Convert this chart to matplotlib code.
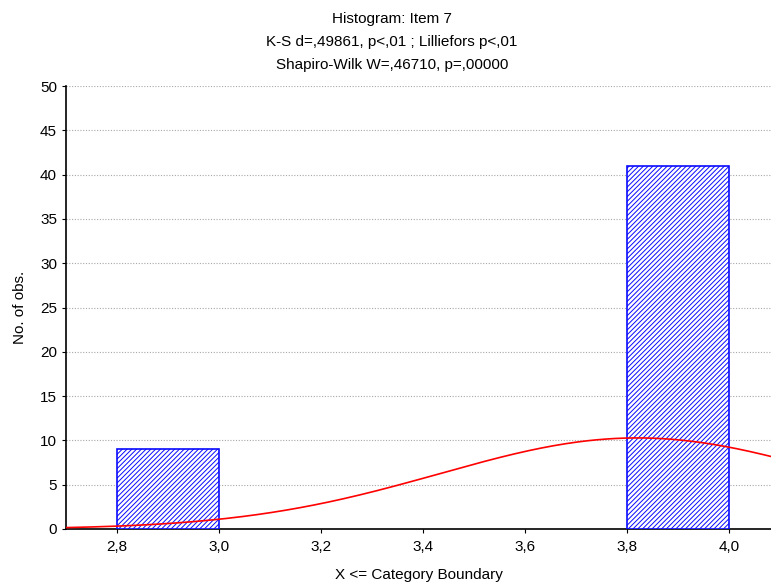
import matplotlib
matplotlib.use('Agg')
import matplotlib.pyplot as plt
import numpy as np

# histogram data (category boundaries, X <= boundary)
bin_left = [2.8, 3.8]
bin_right = [3.0, 4.0]
counts = [9, 41]
values = [3.0, 4.0]  # observed values in each bin

title_lines = ['Histogram: Item 7',
               'K-S d=,49861, p<,01 ; Lilliefors p<,01',
               'Shapiro-Wilk W=,46710, p=,00000']

plt.rcParams['font.family'] = ['Liberation Sans', 'DejaVu Sans']
plt.rcParams['hatch.color'] = '#4848ff'
plt.rcParams['hatch.linewidth'] = 0.7

fig = plt.figure(figsize=(7.71, 5.84), dpi=100)
ax = fig.add_axes([66/771, 1 - 529/584, 1 - 66/771, (529 - 86)/584])

widths = [r - l for l, r in zip(bin_left, bin_right)]
ax.bar(bin_left, counts, width=widths, align='edge', color='white',
       edgecolor='#0a0aff', linewidth=1.2, hatch='///////', zorder=3)

# expected normal curve from the data
n = sum(counts)
mean = sum(v * c for v, c in zip(values, counts)) / n
sd = np.sqrt(sum(c * (v - mean) ** 2 for v, c in zip(values, counts)) / (n - 1))
bw = 0.2
xs = np.linspace(2.7, 4.1, 300)
ys = n * bw * np.exp(-0.5 * ((xs - mean) / sd) ** 2) / (sd * np.sqrt(2 * np.pi))
ax.plot(xs, ys, color='red', linewidth=1.2, zorder=4)

ax.set_xlim(2.7, 4.082)
ax.set_ylim(0, 50)
ax.set_xticks([2.8, 3.0, 3.2, 3.4, 3.6, 3.8, 4.0])
ax.set_xticklabels(['2,8', '3,0', '3,2', '3,4', '3,6', '3,8', '4,0'])
ax.set_yticks(range(0, 51, 5))
ax.tick_params(labelsize=11, length=3, direction='out', color='black')
ax.tick_params(axis='x', pad=5)
ax.yaxis.grid(True, linestyle=(0, (1, 1.5)), color='#a8a8a8', linewidth=0.8, zorder=0)
ax.set_axisbelow(True)
for s in ['top', 'right']:
    ax.spines[s].set_visible(False)
ax.spines['left'].set_linewidth(1.2)
ax.spines['bottom'].set_linewidth(1.2)

ax.set_ylabel('No. of obs.', fontsize=11, labelpad=9)
ax.set_xlabel('X <= Category Boundary', fontsize=11, labelpad=10)

for i, t in enumerate(title_lines):
    fig.text(392/771, 1 - (19 + 23 * i)/584, t, ha='center', va='center', fontsize=11)

fig.savefig('out.png', dpi=100)
